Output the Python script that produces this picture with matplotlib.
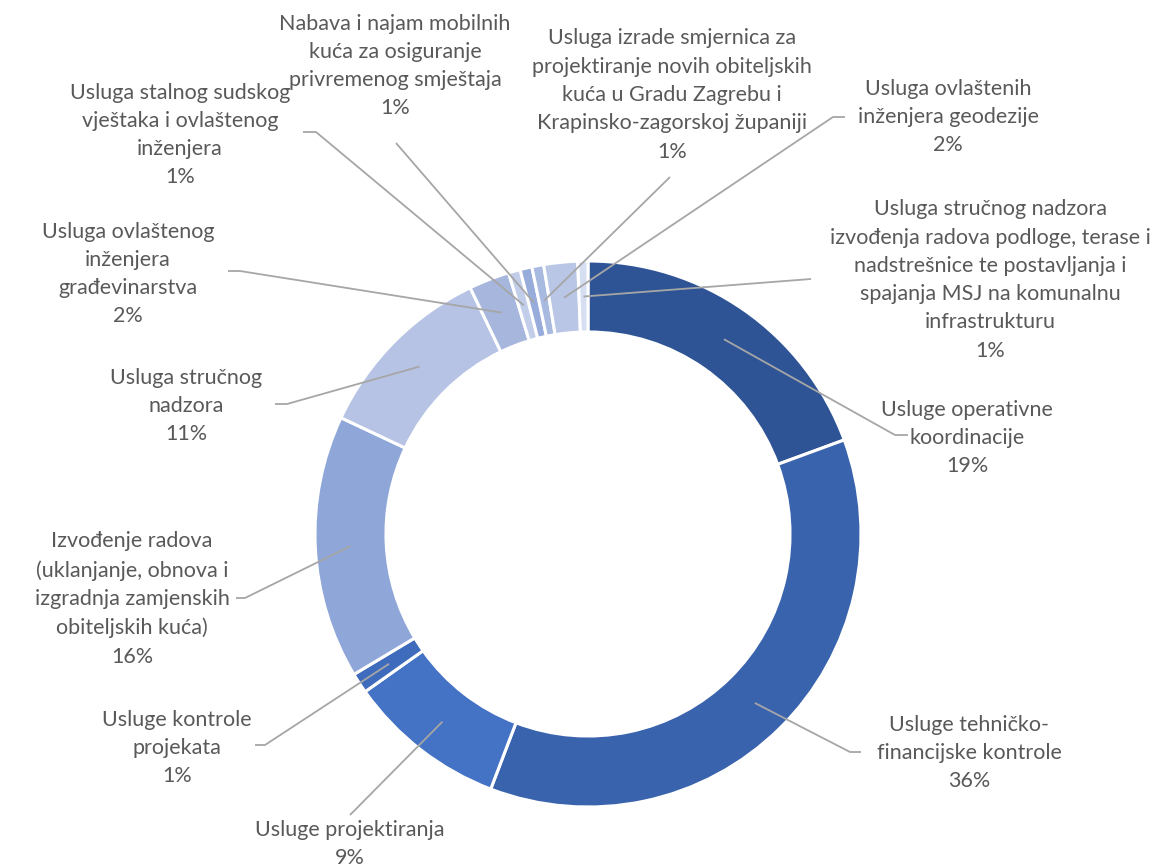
import matplotlib
matplotlib.use("Agg")
import matplotlib.pyplot as plt
import numpy as np

plt.rcParams['font.family'] = ['Lato', 'DejaVu Sans']

categories = [
    "Usluge operativne\nkoordinacije",
    "Usluge tehničko-\nfinancijske kontrole",
    "Usluge projektiranja",
    "Usluge kontrole\nprojekata",
    "Izvođenje radova\n(uklanjanje, obnova i\nizgradnja zamjenskih\nobiteljskih kuća)",
    "Usluga stručnog\nnadzora",
    "Usluga ovlaštenog\ninženjera\ngrađevinarstva",
    "Usluga stalnog sudskog\nvještaka i ovlaštenog\ninženjera",
    "Nabava i najam mobilnih\nkuća za osiguranje\nprivremenog smještaja",
    "Usluga izrade smjernica za\nprojektiranje novih obiteljskih\nkuća u Gradu Zagrebu i\nKrapinsko-zagorskoj županiji",
    "Usluga ovlaštenih\ninženjera geodezije",
    "Usluga stručnog nadzora\nizvođenja radova podloge, terase i\nnadstrešnice te postavljanja i\nspajanja MSJ na komunalnu\ninfrastrukturu",
]
shares = [19.4, 36.4, 9.4, 1.2, 15.6, 10.9, 2.4, 0.7, 0.7, 0.7, 2.0, 0.6]

colors = ["#2F5496", "#3A63AD", "#4472C4", "#3E6BBB", "#8FA7D8", "#B6C3E4",
          "#A6B6DD", "#C2CDEA", "#97ACDB", "#A9BAE1", "#B9C6E6", "#D6DEF2"]

# layout in pixel coordinates: (text centre x, y), elbow point, line end point
CX, CY, R = 588.0, 534.0, 273.0
W, H = 1162, 868
label_layout = [
    ((967, 438), (895, 435), (908, 435)),
    ((969, 753), (850, 752), (861, 752)),
    ((350, 844), (350, 815), None),
    ((177, 748), (265, 745), (255, 745)),
    ((132, 599), (245, 598), (236, 598)),
    ((186, 406), (287, 404), (275, 404)),
    ((128, 274), (240, 271), (228, 271)),
    ((180, 135), (316, 132), (303, 132)),
    ((395, 66), (396, 143), None),
    ((672, 95), (670, 177), None),
    ((948, 117), (833, 117), (845, 117)),
    ((990, 280), (811, 279), None),
]


def px(p):
    return ((p[0] - CX) / R, (CY - p[1]) / R)


fig = plt.figure(figsize=(W / 100, H / 100), dpi=100)
ax = fig.add_axes([0, 0, 1, 1])

ring = 0.26
wedges, _ = ax.pie(shares, colors=colors, startangle=90, counterclock=False,
                   radius=1.0, wedgeprops=dict(width=ring, edgecolor='white', linewidth=2.2))
ax.set_aspect('equal')
ax.set_xlim(-CX / R, (W - CX) / R)
ax.set_ylim(-(H - CY) / R, CY / R)
ax.axis('off')

line_color = "#A6A6A6"
text_color = "#595959"
for w, cat, val, (tpos, elbow, end) in zip(wedges, categories, shares, label_layout):
    ang = np.deg2rad((w.theta1 + w.theta2) / 2)
    rmid = 1.0 - ring / 2
    start = (rmid * np.cos(ang), rmid * np.sin(ang))
    e = px(elbow)
    xs = [start[0], e[0]]
    ys = [start[1], e[1]]
    if end is not None:
        en = px(end)
        xs.append(en[0])
        ys.append(en[1])
    ax.plot(xs, ys, color=line_color, lw=1.3, solid_capstyle='butt', zorder=3)
    t = px(tpos)
    ax.text(t[0], t[1], f"{cat}\n{round(val):.0f}%", ha='center', va='center',
            fontsize=15.5, color=text_color, linespacing=1.52, zorder=4)

fig.savefig("out.png", dpi=100, facecolor='white')
